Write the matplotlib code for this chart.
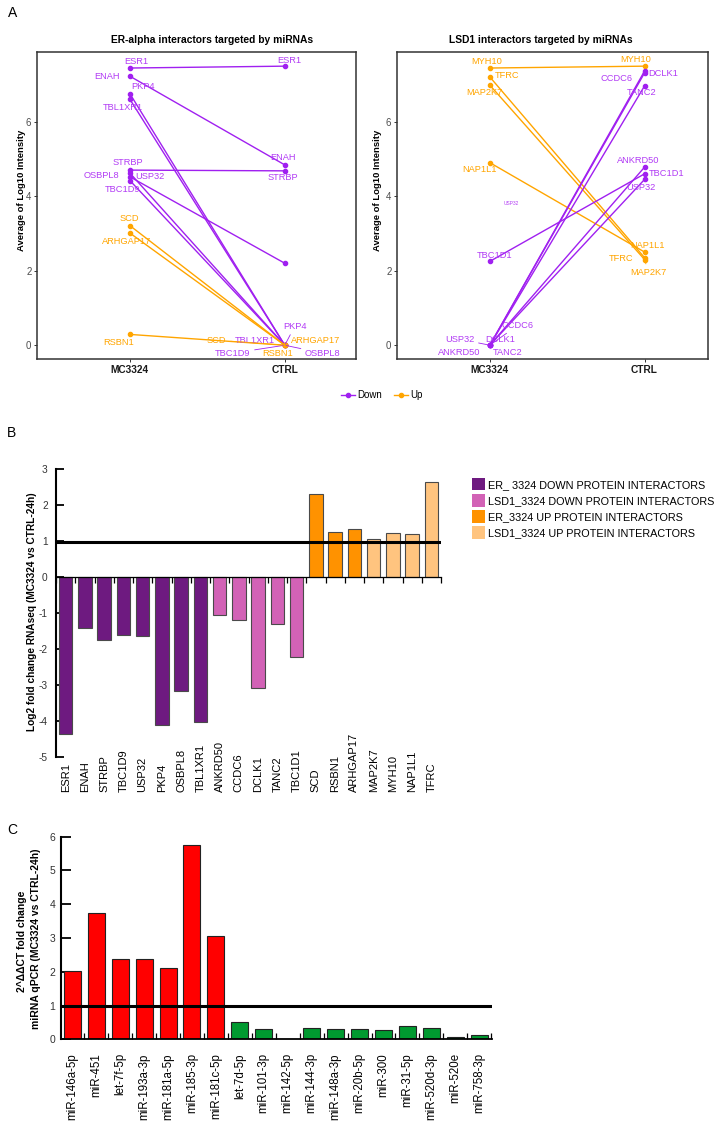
import matplotlib
matplotlib.use('Agg')
import matplotlib.pyplot as plt
from matplotlib.lines import Line2D
from matplotlib.patches import Patch
import numpy as np

plt.rcParams['font.family'] = ['Liberation Sans', 'DejaVu Sans']
plt.rcParams['axes.unicode_minus'] = False

# ---------------- data ----------------
# Panel A (left): ER-alpha interactors
er_genes = ['ESR1', 'ENAH', 'PKP4', 'TBL1XR1', 'STRBP', 'OSBPL8', 'USP32', 'TBC1D9',
            'SCD', 'ARHGAP17', 'RSBN1']
er_direction = ['Down'] * 8 + ['Up'] * 3
er_mc3324 = [7.44, 7.22, 6.75, 6.60, 4.70, 4.62, 4.52, 4.42, 3.21, 3.01, 0.29]
er_ctrl = [7.49, 4.84, 0.0, 0.0, 4.68, 0.0, 2.20, 0.0, 0.0, 0.0, 0.0]

# Panel A (right): LSD1 interactors
lsd_genes = ['MYH10', 'TFRC', 'MAP2K7', 'NAP1L1', 'TBC1D1', 'DCLK1', 'CCDC6', 'TANC2',
             'ANKRD50', 'USP32']
lsd_direction = ['Up'] * 4 + ['Down'] * 6
lsd_mc3324 = [7.44, 7.20, 6.98, 4.90, 2.25, 0.0, 0.0, 0.0, 0.0, 0.0]
lsd_ctrl = [7.49, 2.35, 2.30, 2.50, 4.60, 7.36, 7.31, 6.96, 4.78, 4.45]

conditions = ['MC3324', 'CTRL']

# Panel B
genes_b = ['ESR1', 'ENAH', 'STRBP', 'TBC1D9', 'USP32', 'PKP4', 'OSBPL8', 'TBL1XR1',
           'ANKRD50', 'CCDC6', 'DCLK1', 'TANC2', 'TBC1D1', 'SCD', 'RSBN1', 'ARHGAP17',
           'MAP2K7', 'MYH10', 'NAP1L1', 'TFRC']
log2fc_b = [-4.37, -1.41, -1.76, -1.60, -1.65, -4.12, -3.18, -4.02,
            -1.06, -1.20, -3.08, -1.31, -2.22, 2.30, 1.26, 1.33,
            1.05, 1.21, 1.19, 2.63]
group_b = [0] * 8 + [1] * 5 + [2] * 3 + [3] * 4
group_names_b = ['ER_ 3324 DOWN PROTEIN INTERACTORS', 'LSD1_3324 DOWN PROTEIN INTERACTORS',
                 'ER_3324 UP PROTEIN INTERACTORS', 'LSD1_3324 UP PROTEIN INTERACTORS']
threshold_b = 0.96

# Panel C
mirnas = ['miR-146a-5p', 'miR-451', 'let-7f-5p', 'miR-193a-3p', 'miR-181a-5p', 'miR-185-3p',
          'miR-181c-5p', 'let-7d-5p', 'miR-101-3p', 'miR-142-5p', 'miR-144-3p', 'miR-148a-3p',
          'miR-20b-5p', 'miR-300', 'miR-31-5p', 'miR-520d-3p', 'miR-520e', 'miR-758-3p']
fold_c = [2.02, 3.73, 2.39, 2.39, 2.11, 5.76, 3.06, 0.51, 0.30, 0.02, 0.34, 0.30,
          0.30, 0.28, 0.38, 0.34, 0.06, 0.13]
direction_c = ['up'] * 7 + ['down'] * 11
threshold_c = 0.99

# ---------------- style / layout ----------------
PURPLE = '#A020F0'
PURPLE_TXT = '#B23CF5'
ORANGE = '#FFA500'
dir_col = {'Down': PURPLE, 'Up': ORANGE}
dir_txt = {'Down': PURPLE_TXT, 'Up': ORANGE}
col_b = ['#6E1A80', '#D262B6', '#FF9200', '#FFC47F']
col_c = {'up': '#FF0000', 'down': '#009A30'}

# label offsets in pixels (dx, dy, segment) for MC3324 and CTRL ends
er_lab_mc = {'ESR1': (6, 7, 0), 'ENAH': (-23, 0, 0), 'PKP4': (13, 7, 0), 'TBL1XR1': (-7, -8, 0),
             'STRBP': (-2, 8, 0), 'OSBPL8': (-28, -2, 0), 'USP32': (20, 0, 0),
             'TBC1D9': (-7, -9, 0), 'SCD': (-1, 7, 0), 'ARHGAP17': (-3, -8, 0),
             'RSBN1': (-11, -8, 0)}
er_lab_ctrl = {'ESR1': (5, 6, 0), 'ENAH': (-2, 7, 0), 'STRBP': (-2, -7, 0),
               'PKP4': (10, 19, 1), 'TBL1XR1': (-30, 5, 0), 'SCD': (-68, 5, 1),
               'ARHGAP17': (31, 5, 0), 'TBC1D9': (-52, -8, 1), 'RSBN1': (-7, -8, 0),
               'OSBPL8': (38, -8, 1)}
lsd_lab_mc = {'MYH10': (-3, 7, 0), 'TFRC': (17, 1, 0), 'MAP2K7': (-5, -7, 0),
              'NAP1L1': (-10, -7, 0), 'TBC1D1': (5, 6, 0), 'DCLK1': (10, 6, 0),
              'CCDC6': (28, 20, 1), 'TANC2': (18, -7, 0), 'ANKRD50': (-31, -7, 0),
              'USP32': (-30, 6, 1)}
lsd_lab_ctrl = {'MYH10': (-9, 7, 0), 'DCLK1': (19, -2, 0), 'CCDC6': (-28, -6, 0),
                'TANC2': (-3, -7, 0), 'ANKRD50': (-6, 7, 0), 'TBC1D1': (22, 0, 0),
                'USP32': (-4, -8, 0), 'NAP1L1': (3, 7, 0), 'TFRC': (-23, -1, 0),
                'MAP2K7': (4, -13, 1)}

W, H = 725, 1133
fig = plt.figure(figsize=(W / 100, H / 100), dpi=100)


def ax_px(x0, y0, x1, y1):
    return fig.add_axes([x0 / W, 1 - y1 / H, (x1 - x0) / W, (y1 - y0) / H])


def fig_text(x, y, s, **kw):
    fig.text(x / W, 1 - y / H, s, **kw)


# ---------------- Panel A ----------------
def slope_panel(ax, genes, dirs, mc, ctrl, lab_mc, lab_ctrl, xlim):
    for g, d, a, b in zip(genes, dirs, mc, ctrl):
        c = dir_col[d]
        ax.plot([1, 2], [a, b], color=c, lw=1.0, solid_capstyle='round', zorder=2)
        ax.plot([1, 2], [a, b], 'o', color=c, ms=3.0, zorder=3)
        for xpos, val, labs in ((1, a, lab_mc), (2, b, lab_ctrl)):
            if g not in labs:
                continue
            dx, dy, seg = labs[g]
            ap = dict(arrowstyle='-', color=dir_col[d], lw=0.6, shrinkA=1, shrinkB=1) if seg else None
            ax.annotate(g, xy=(xpos, val), xytext=(dx, dy), textcoords='offset pixels',
                        ha='center', va='center', fontsize=6.7, color=dir_txt[d],
                        arrowprops=ap, zorder=4)
    ax.set_xlim(*xlim)
    ax.set_ylim(-0.37, 7.87)
    ax.set_xticks([1, 2])
    ax.set_xticklabels(conditions, fontweight='bold', fontsize=7.3, color='#1A1A1A')
    ax.set_yticks([0, 2, 4, 6])
    ax.tick_params(axis='both', length=2.5, width=0.7, color='#333333', pad=1.5)
    ax.tick_params(axis='y', labelsize=7, labelcolor='#4D4D4D')
    for s in ax.spines.values():
        s.set_color('#333333')
        s.set_linewidth(1.1)


axA1 = ax_px(37, 52, 356, 359)
slope_panel(axA1, er_genes, er_direction, er_mc3324, er_ctrl, er_lab_mc, er_lab_ctrl, (0.4, 2.46))
axA2 = ax_px(397, 52, 708, 359)
slope_panel(axA2, lsd_genes, lsd_direction, lsd_mc3324, lsd_ctrl, lsd_lab_mc, lsd_lab_ctrl, (0.4, 2.41))
axA2.text(1.142, 3.81, 'USP32', fontsize=3.5, color=PURPLE_TXT, ha='center', va='center')

fig_text(212, 40, 'ER-alpha interactors targeted by miRNAs', ha='center', va='center',
         fontweight='bold', fontsize=7.4)
fig_text(541, 40, 'LSD1 interactors targeted by miRNAs', ha='center', va='center',
         fontweight='bold', fontsize=7.4)
fig_text(22, 190, 'Average of Log10 Intensity', rotation=90, ha='center', va='center',
         fontweight='bold', fontsize=6.8)
fig_text(378, 190, 'Average of Log10 Intensity', rotation=90, ha='center', va='center',
         fontweight='bold', fontsize=6.8)

handles = [Line2D([], [], color=PURPLE, marker='o', ms=3, lw=1),
           Line2D([], [], color=ORANGE, marker='o', ms=3, lw=1)]
fig.legend(handles, ['Down', 'Up'], loc='center', bbox_to_anchor=(382 / W, 1 - 395 / H),
           ncol=2, frameon=False, fontsize=7, handlelength=1.4, columnspacing=1.2,
           handletextpad=0.3, borderpad=0)

fig_text(13, 13, 'A', ha='center', va='center', fontsize=10)
fig_text(12, 433, 'B', ha='center', va='center', fontsize=10)
fig_text(12, 830, 'C', ha='center', va='center', fontsize=10)

# ---------------- Panel B ----------------
axB = ax_px(56, 469, 441, 757)
xb = np.arange(len(genes_b))
axB.bar(xb, log2fc_b, width=0.71, color=[col_b[g] for g in group_b],
        edgecolor='#4A4A4A', linewidth=0.8, zorder=2)
axB.axhline(threshold_b, color='black', lw=2.2, zorder=3)
axB.set_xlim(-0.5, len(genes_b) - 0.5)
axB.set_ylim(-5, 3)
axB.set_yticks(range(-5, 4))
axB.spines['top'].set_visible(False)
axB.spines['right'].set_visible(False)
axB.spines['bottom'].set_position(('data', 0))
axB.spines['bottom'].set_linewidth(0.9)
axB.spines['left'].set_linewidth(1.5)
axB.tick_params(axis='y', direction='in', length=6, width=1.3, labelsize=7.3,
                labelcolor='#333333', pad=6)
axB.set_xticks(xb)
axB.set_xticklabels(genes_b, rotation=90, fontsize=8, va='bottom', ha='center')
axB.set_xticks(np.arange(-0.5, len(genes_b), 1), minor=True)
axB.tick_params(axis='x', which='major', length=0, pad=155)
axB.tick_params(axis='x', which='minor', direction='out', length=4, width=0.9)
fig_text(32, 612, 'Log2 fold change RNAseq (MC3324 vs CTRL-24h)', rotation=90,
         ha='center', va='center', fontweight='bold', fontsize=7.3)

legend_handles = [Patch(facecolor=c, edgecolor='none') for c in col_b]
fig.legend(legend_handles, group_names_b, loc='upper left',
           bbox_to_anchor=(471.7 / W, 1 - 478.3 / H), frameon=False, fontsize=7.8,
           handlelength=1.25, handleheight=1.35, labelspacing=0.36, handletextpad=0.25,
           borderpad=0, borderaxespad=0)

# ---------------- Panel C ----------------
axC = ax_px(61, 836.7, 492.4, 1039.3)
xc = np.arange(len(mirnas))
axC.bar(xc, fold_c, width=0.71, color=[col_c[d] for d in direction_c],
        edgecolor='#222222', linewidth=0.8, zorder=2)
axC.axhline(threshold_c, color='black', lw=2.2, zorder=3)
axC.set_xlim(-0.47, len(mirnas) - 0.45)
axC.set_ylim(0, 6)
axC.set_yticks(range(0, 7))
axC.spines['top'].set_visible(False)
axC.spines['right'].set_visible(False)
axC.spines['left'].set_linewidth(1.5)
axC.spines['bottom'].set_linewidth(1.3)
axC.tick_params(axis='y', direction='in', length=7, width=1.3, labelsize=7.5,
                labelcolor='#333333', pad=4)
axC.set_xticks(xc)
axC.set_xticklabels(mirnas, rotation=90, fontsize=8.3)
axC.set_xticks(np.arange(0.5, len(mirnas), 1), minor=True)
axC.tick_params(axis='x', which='major', length=0, pad=10)
axC.tick_params(axis='x', which='minor', direction='in', length=4, width=0.9)
fig_text(22, 941, '2^ΔΔCT fold change', rotation=90, ha='center', va='center',
         fontweight='bold', fontsize=7.5)
fig_text(36.5, 939, 'miRNA qPCR (MC3324 vs CTRL-24h)', rotation=90, ha='center',
         va='center', fontweight='bold', fontsize=7.5)

fig.savefig('out.png', dpi=100)
